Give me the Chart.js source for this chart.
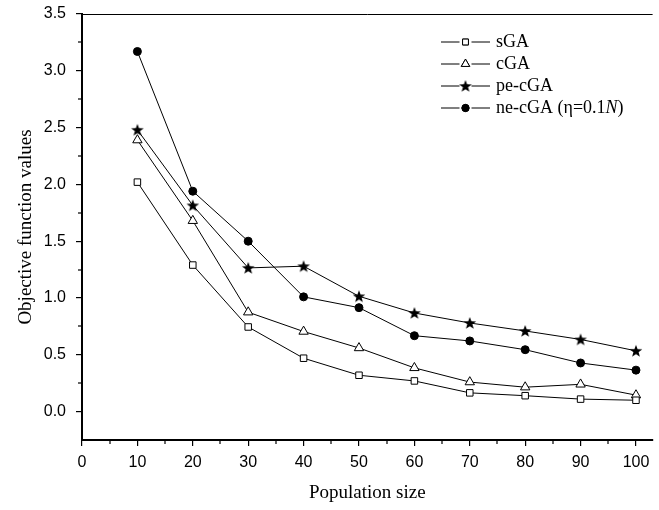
<!DOCTYPE html>
<html>
<head>
<meta charset="utf-8">
<script src="https://cdn.jsdelivr.net/npm/chart.js@4/dist/chart.umd.min.js"></script>
<style>
  html, body { margin: 0; padding: 0; background: #fff; }
  #wrap { width: 659px; height: 510px; }
</style>
</head>
<body>
<div id="wrap"><canvas id="c" width="659" height="510"></canvas></div>
<script>
// ---- data ----
const populationSizes = [10, 20, 30, 40, 50, 60, 70, 80, 90, 100];
const sGA    = [2.02, 1.29, 0.745, 0.47, 0.32, 0.27, 0.165, 0.14, 0.11, 0.10];
const cGA    = [2.39, 1.68, 0.875, 0.705, 0.56, 0.385, 0.26, 0.215, 0.24, 0.145];
const peCGA  = [2.48, 1.815, 1.265, 1.28, 1.015, 0.868, 0.78, 0.71, 0.635, 0.535];
const neCGA  = [3.17, 1.94, 1.50, 1.01, 0.915, 0.668, 0.622, 0.545, 0.428, 0.365];
const seriesNames = ["sGA", "cGA", "pe-cGA", "ne-cGA (η=0.1N)"];
const xTickValues = [0, 10, 20, 30, 40, 50, 60, 70, 80, 90, 100];
const yTickValues = [0, 0.5, 1.0, 1.5, 2.0, 2.5, 3.0, 3.5];
const xMinorTicks = [5, 15, 25, 35, 45, 55, 65, 75, 85, 95];
const yMinorTicks = [0.25, 0.75, 1.25, 1.75, 2.25, 2.75, 3.25];

const SERIF = '"Liberation Serif", "Times New Roman", serif';
const SANS = '"Liberation Sans", Arial, sans-serif';

// star marker image
function makeStar(size, outer, inner) {
  const cv = document.createElement('canvas');
  cv.width = size; cv.height = size;
  const g = cv.getContext('2d');
  const cx = size / 2, cy = size / 2 + 0.5;
  g.beginPath();
  for (let i = 0; i < 10; i++) {
    const r = i % 2 === 0 ? outer : inner;
    const a = -Math.PI / 2 + i * Math.PI / 5;
    const px = cx + r * Math.cos(a), py = cy + r * Math.sin(a);
    if (i === 0) g.moveTo(px, py); else g.lineTo(px, py);
  }
  g.closePath();
  g.fillStyle = '#000';
  g.fill();
  return cv;
}
const starImg = makeStar(14, 6.6, 2.7);

const styles = [
  { pointStyle: 'rect', radius: 4.6, bg: '#fff' },
  { pointStyle: 'triangle', radius: 5.4, bg: '#fff' },
  { pointStyle: starImg, radius: 5, bg: '#000' },
  { pointStyle: 'circle', radius: 4, bg: '#000' }
];
const allSeries = [sGA, cGA, peCGA, neCGA];

const datasets = allSeries.map((arr, i) => ({
  label: seriesNames[i],
  data: populationSizes.map((x, j) => ({ x: x, y: arr[j] })),
  borderColor: '#000',
  borderWidth: 1,
  backgroundColor: styles[i].bg,
  pointStyle: styles[i].pointStyle,
  pointRadius: styles[i].radius,
  pointBorderColor: '#000',
  pointBackgroundColor: styles[i].bg,
  pointBorderWidth: 1,
  tension: 0,
  fill: false
}));

const extras = {
  id: 'extras',
  afterDraw(chart) {
    const ctx = chart.ctx;
    const area = chart.chartArea;
    const xs = chart.scales.x, ys = chart.scales.y;
    ctx.save();
    // top border
    ctx.strokeStyle = '#000';
    ctx.lineWidth = 1;
    ctx.beginPath();
    ctx.moveTo(area.left, area.top + 0.5);
    ctx.lineTo(area.right, area.top + 0.5);
    ctx.stroke();
    // minor ticks
    ctx.lineWidth = 1.2;
    xMinorTicks.forEach(v => {
      const px = Math.round(xs.getPixelForValue(v));
      ctx.beginPath();
      ctx.moveTo(px, area.bottom);
      ctx.lineTo(px, area.bottom + 4);
      ctx.stroke();
    });
    yMinorTicks.forEach(v => {
      const py = Math.round(ys.getPixelForValue(v));
      ctx.beginPath();
      ctx.moveTo(area.left, py);
      ctx.lineTo(area.left - 4, py);
      ctx.stroke();
    });
    // legend
    const lx0 = 441, lx1 = 490, lmx = 465.5, tx = 496;
    const rowY = [42, 64, 86, 108];
    const fsz = 18;
    ctx.textBaseline = 'middle';
    ctx.textAlign = 'left';
    for (let i = 0; i < 4; i++) {
      const y = rowY[i];
      ctx.lineWidth = 1;
      ctx.strokeStyle = '#000';
      ctx.beginPath();
      ctx.moveTo(lx0, y); ctx.lineTo(lmx - 6, y);
      ctx.moveTo(lmx + 6, y); ctx.lineTo(lx1, y);
      ctx.stroke();
      const st = styles[i];
      if (st.pointStyle === starImg) {
        ctx.drawImage(starImg, lmx - starImg.width / 2, y - starImg.height / 2);
      } else {
        ctx.fillStyle = st.bg;
        Chart.helpers.drawPoint(ctx, { pointStyle: st.pointStyle, radius: st.radius * 0.9, borderWidth: 1 }, lmx, y);
        ctx.fill();
        ctx.stroke();
      }
      ctx.fillStyle = '#000';
      const name = seriesNames[i];
      const reg = fsz + 'px ' + SERIF;
      if (name.endsWith('N)')) {
        const pre = name.slice(0, name.length - 2);
        ctx.font = reg;
        ctx.fillText(pre, tx, y);
        let w = ctx.measureText(pre).width;
        ctx.font = 'italic ' + reg;
        ctx.fillText('N', tx + w, y);
        w += ctx.measureText('N').width;
        ctx.font = reg;
        ctx.fillText(')', tx + w, y);
      } else {
        ctx.font = reg;
        ctx.fillText(name, tx, y);
      }
    }
    ctx.restore();
  }
};

new Chart(document.getElementById('c'), {
  type: 'line',
  data: { datasets },
  options: {
    responsive: false,
    animation: false,
    events: [],
    layout: { padding: { left: 0, right: 5, top: 14, bottom: 0 } },
    plugins: { legend: { display: false }, tooltip: { enabled: false } },
    scales: {
      x: {
        type: 'linear',
        min: 0, max: 103,
        afterBuildTicks: s => { s.ticks = xTickValues.map(v => ({ value: v })); },
        afterFit: s => { s.height = 70; },
        grid: { drawOnChartArea: false, drawTicks: true, tickLength: 6, color: '#000', lineWidth: 1.2 },
        border: { color: '#000', width: 2 },
        ticks: { color: '#000', padding: 7, maxRotation: 0, autoSkip: false,
                 font: { family: SANS, size: 16 },
                 callback: v => String(v) },
        title: { display: true, text: 'Population size', color: '#000',
                 font: { family: SERIF, size: 19 },
                 padding: { top: 0, bottom: 6 } }
      },
      y: {
        type: 'linear',
        min: -0.25, max: 3.5,
        afterBuildTicks: s => { s.ticks = yTickValues.map(v => ({ value: v })); },
        afterFit: s => { s.width = 82; s.paddingTop = 0; },
        grid: { drawOnChartArea: false, drawTicks: true, tickLength: 6, color: '#000', lineWidth: 1.2 },
        border: { color: '#000', width: 2 },
        ticks: { color: '#000', padding: 10,
                 font: { family: SANS, size: 16 },
                 callback: v => Number(v).toFixed(1) },
        title: { display: true, text: 'Objective function values', color: '#000',
                 font: { family: SERIF, size: 19 },
                 padding: { top: 15, bottom: 0 } }
      }
    }
  },
  plugins: [extras]
});
</script>
</body>
</html>
